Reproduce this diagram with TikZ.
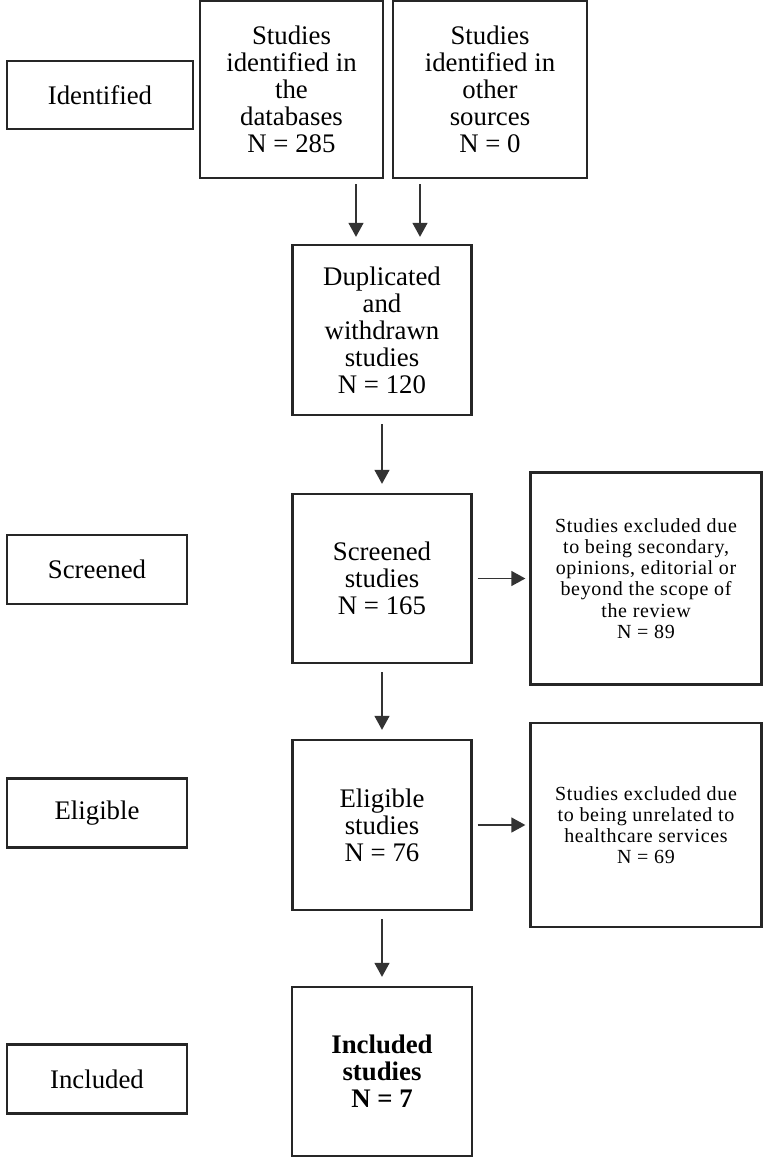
\documentclass[tikz,border=0pt]{standalone}
\usepackage{fontspec}
\setmainfont{Liberation Serif}
\newfontfamily\notafont[LetterSpace=3.5]{Liberation Serif}
\usetikzlibrary{arrows.meta,positioning}
\tikzset{
    bloque/.style={rectangle,draw=black!85,line width=1.15pt,align=center,inner sep=2pt,
        font=\fontsize{13.4}{13.5}\selectfont},
    etiqueta/.style={bloque,minimum width=90pt,minimum height=34.5pt},
    columna/.style={bloque,minimum width=89.5pt,minimum height=84.5pt},
    excluido/.style={bloque,minimum width=115.5pt,font=\notafont\fontsize{10}{10.6}\selectfont},
    flecha/.style={draw=black!80,line width=0.65pt,-{Triangle[length=7pt,width=7.5pt]},
        shorten <=4pt,shorten >=4.5pt},
}
\begin{document}
\begin{tikzpicture}[x=0.5pt,y=-0.5pt]
    \useasboundingbox (0,0) rectangle (771,1162);
    % etapas
    \node [etiqueta,minimum width=93pt,minimum height=34pt] (lident) at (100,95) {Identified};
    \node [etiqueta] (lscr) at (97,569.5) {Screened};
    \node [etiqueta] (lelig) at (97,813) {Eligible};
    \node [etiqueta] (lincl) at (97,1079) {Included};
    % fuentes
    \node [bloque,minimum width=91.5pt,minimum height=88.5pt] (db) at (291.5,89.5) {Studies\\identified in\\the\\databases\\N = 285};
    \node [bloque,minimum width=97pt,minimum height=88.5pt] (otras) at (490,89.5) {Studies\\identified in\\other\\sources\\N = 0};
    % columna central
    \node [columna,minimum height=85pt] (dup) at (382,330) {Duplicated\\and\\withdrawn\\studies\\N = 120};
    \node [below=38.35pt of dup,columna] (scr) {Screened\\studies\\N = 165};
    \node [below=37.35pt of scr,columna,minimum height=85pt] (elig) {Eligible\\studies\\N = 76};
    \node [below=37.35pt of elig,columna,minimum width=90pt,font=\fontsize{13.4}{13.5}\selectfont\bfseries] (incl) {Included\\studies\\N = 7};
    % excluidos
    \node [right=28.35pt of scr,excluido,minimum height=106pt] (exc1) {Studies excluded due\\to being secondary,\\opinions, editorial or\\beyond the scope of\\the review\\N = 89};
    \node [right=28.35pt of elig,excluido,minimum height=102pt] (exc2) {Studies excluded due\\to being unrelated to\\healthcare services\\N = 69};
    % flechas
    \path [flecha,shorten <=2.5pt,shorten >=3.5pt] ([xshift=-13pt]dup.north |- db.south) -- ([xshift=-13pt]dup.north);
    \path [flecha,shorten <=2.5pt,shorten >=3.5pt] ([xshift=19pt]dup.north |- otras.south) -- ([xshift=19pt]dup.north);
    \path [flecha] (dup) -- (scr);
    \path [flecha] (scr) -- (elig);
    \path [flecha] (elig) -- (incl);
    \path [flecha,shorten <=2.5pt,shorten >=2pt] (scr) -- (scr -| exc1.west);
    \path [flecha,shorten <=2.5pt,shorten >=2pt] (elig) -- (elig -| exc2.west);
\end{tikzpicture}
\end{document}
